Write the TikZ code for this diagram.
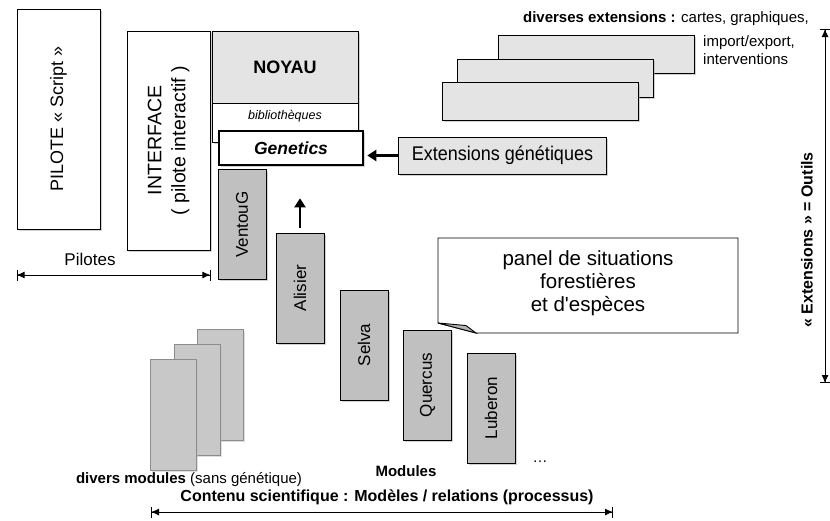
\documentclass[tikz,border=0pt]{standalone}
\usepackage{fontspec}
\setmainfont{Liberation Sans}
\usepackage{graphicx}
\usetikzlibrary{arrows.meta, positioning, shadows}
\definecolor{modgray}{RGB}{192,192,192}
\definecolor{palegray}{RGB}{228,228,228}
\definecolor{divgray}{RGB}{200,200,200}
\tikzstyle{box} = [rectangle, draw=black, line width=0.9pt, fill=white, inner sep=0pt, drop shadow={shadow xshift=1.5pt, shadow yshift=-1.5pt, fill=black!35}]
\tikzstyle{module} = [box, fill=modgray, minimum width=48pt, minimum height=110pt, font=\fontsize{17}{20}\selectfont]
\tikzstyle{extbox} = [box, fill=palegray, minimum width=196pt, minimum height=38pt]
\tikzstyle{divmod} = [rectangle, draw=black!45, fill=divgray, minimum width=46pt, minimum height=111pt, drop shadow={shadow xshift=1.5pt, shadow yshift=-1.5pt, fill=black!25}]
\tikzstyle{bigarrow} = [-{Triangle[length=9pt, width=11pt]}, line width=2.6pt]
\tikzstyle{dimline} = [{Latex[length=8pt, width=7pt]}-{Latex[length=8pt, width=7pt]}, line width=0.9pt, postaction={draw, {Bar[width=11pt]}-{Bar[width=11pt]}}]

\begin{document}
\begin{tikzpicture}[x=1pt, y=-1pt]
    \useasboundingbox (0,0) rectangle (830,520);

    % pilotes
    \node (pilote) [box, minimum width=83pt, minimum height=220pt, font=\fontsize{18}{21}\selectfont] at (58.5,119) {\rotatebox{90}{PILOTE « Script »}};
    \node (interface) [box, minimum width=83pt, minimum height=219pt, font=\fontsize{19.5}{24}\selectfont] at (168.5,140.5) {\rotatebox{90}{\begin{tabular}{@{}c@{}}INTERFACE\\( pilote interactif )\end{tabular}}};
    \coordinate (pilline) at (0,275);
    \draw [dimline] (pilote.west |- pilline) -- (interface.east |- pilline);
    \node (pilotes) [font=\fontsize{17}{20}\selectfont] at (90,259) {Pilotes};

    % noyau
    \node (noyau) [box, fill=palegray, minimum width=146pt, minimum height=72pt, font=\bfseries\fontsize{18}{21}\selectfont] at (285,67) {NOYAU};
    \node (biblio) [box, minimum width=146pt, minimum height=39pt] at (285,122.5) {};
    \node (bibtext) [font=\itshape\fontsize{12.5}{15}\selectfont] at (285,116) {bibliothèques};
    \node (genetics) [box, line width=2.6pt, minimum width=144pt, minimum height=34pt, font=\bfseries\itshape\fontsize{17.5}{20}\selectfont] at (291,148) {Genetics};

    \node (extgen) [box, fill=palegray, minimum width=208pt, minimum height=37pt, font=\fontsize{18}{21}\selectfont] at (502.5,155.5) {\scalebox{1}[1.1]{Extensions génétiques}};
    \draw [bigarrow, shorten >=3pt] (extgen.west) -- (genetics.east |- extgen.west);

    % extensions
    \node (ext1) [extbox] at (596,54) {};
    \node (ext2) [extbox] at (555,78) {};
    \node (ext3) [extbox] at (540.5,101) {};
    \node (extlabel) [anchor=east, inner sep=0pt, font=\fontsize{15}{18}\selectfont] at (809,19) {\textbf{diverses extensions :} cartes, graphiques,};
    \node (extlabel2) [anchor=north west, inner sep=0pt, align=left, font=\fontsize{15}{18}\selectfont] at (703,35) {import/export,\\interventions};
    \coordinate (outtop) at (825,29);
    \coordinate (outbot) at (825,383);
    \draw [dimline] (outtop) -- (outbot);
    \node (outils) [rotate=90, font=\bfseries\fontsize{16}{19}\selectfont] at (807,240) {« Extensions » = Outils};

    % modules
    \node (ventoug) [module] at (242,224.5) {\rotatebox{90}{VentouG}};
    \node (alisier) [module] at (300,288) {\rotatebox{90}{Alisier}};
    \node (selva) [module] at (364,345) {\rotatebox{90}{Selva}};
    \node (quercus) [module] at (427.5,385) {\rotatebox{90}{Quercus}};
    \node (luberon) [module] at (491,408) {\rotatebox{90}{Luberon}};
    \draw [bigarrow, shorten <=5pt, shorten >=32pt] (alisier.north) -- (alisier.north |- genetics.south);
    \node (dots) [font=\fontsize{15}{18}\selectfont] at (540,462) {\dots};
    \node (modlabel) [font=\bfseries\fontsize{15}{18}\selectfont] at (406,471) {Modules};

    % panel
    \draw [line width=0.9pt, fill=white] (438,238) -- (738,238) -- (738,333) -- (476,333) -- (438,323) -- cycle;
    \draw [line width=0.9pt, fill=black!30] (438,323) -- (466,325.5) -- (476,333) -- cycle;
    \node (panel) [align=center, font=\fontsize{20.5}{23}\selectfont] at (588,283) {panel de situations\\forestières\\et d\textquotesingle espèces};

    % divers modules
    \node (div1) [divmod] at (220,384.5) {};
    \node (div2) [divmod] at (197,400) {};
    \node (div3) [divmod] at (173,415) {};
    \node (divlabel) [font=\fontsize{15}{18}\selectfont] at (189,480) {\textbf{divers modules} (sans génétique)};

    \node (contenu) [font=\bfseries\fontsize{16}{19}\selectfont] at (387,497) {Contenu scientifique : Modèles / relations (processus)};
    \coordinate (contL) at (151,512);
    \coordinate (contR) at (613,512);
    \draw [dimline] (contL) -- (contR);

\end{tikzpicture}
\end{document}
